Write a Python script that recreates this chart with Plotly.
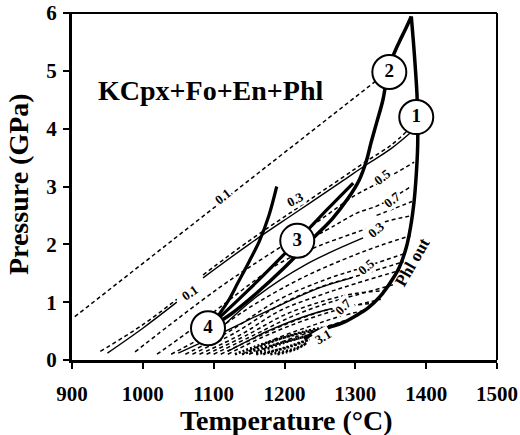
import plotly.graph_objects as go

# ---------------- data ----------------
x_ticks = [900, 1000, 1100, 1200, 1300, 1400, 1500]
y_ticks = [0, 1, 2, 3, 4, 5, 6]

# thick boundaries
phl_out_T = [1228, 1240, 1252, 1267, 1285, 1300, 1318, 1335, 1350, 1362, 1372, 1378, 1383, 1386, 1388, 1388, 1387, 1385, 1382, 1379]
phl_out_P = [0.36, 0.46, 0.52, 0.58, 0.66, 0.76, 0.90, 1.10, 1.35, 1.60, 1.95, 2.30, 2.75, 3.20, 3.70, 4.20, 4.60, 5.00, 5.50, 5.94]

curve2_T = [1379, 1370, 1362, 1353, 1346, 1339, 1330, 1322, 1316, 1305, 1290, 1268, 1240, 1200, 1160, 1125, 1100]
curve2_P = [5.94, 5.70, 5.50, 5.25, 4.98, 4.50, 4.10, 3.75, 3.46, 3.10, 2.80, 2.45, 2.10, 1.60, 1.15, 0.80, 0.60]

curve3_T = [1092, 1150, 1218, 1260, 1297]
curve3_P = [0.55, 1.22, 2.06, 2.60, 3.06]

curve4_T = [1100, 1109, 1122, 1134, 1150, 1165, 1178, 1189]
curve4_P = [0.65, 0.81, 1.05, 1.33, 1.70, 2.07, 2.50, 3.00]

# dashed isopleths
L1_T = [904, 1340]
L1_P = [0.75, 4.93]
L2a_T = [950, 1000, 1048]
L2a_P = [0.12, 0.55, 1.00]
L2b_T = [1085, 1150, 1216, 1280, 1316, 1350, 1377]
L2b_P = [1.42, 2.00, 2.55, 3.08, 3.38, 3.65, 3.92]
L2c_T = [940, 1000, 1048]
L2c_P = [0.15, 0.61, 1.05]
L2d_T = [1085, 1150, 1216, 1280, 1316, 1350, 1374]
L2d_P = [1.47, 2.06, 2.61, 3.14, 3.44, 3.71, 3.97]
D1_T = [989, 1050, 1109, 1151, 1200, 1250, 1300, 1331, 1383]
D1_P = [0.14, 0.72, 1.26, 1.61, 2.00, 2.42, 2.85, 3.05, 3.42]
Dx_T = [1240, 1270, 1302, 1330, 1352, 1376]
Dx_P = [2.12, 2.32, 2.54, 2.66, 2.80, 2.98]
Dy_T = [1330, 1355, 1380]
Dy_P = [2.50, 2.62, 2.74]
E1_T = [1020, 1060, 1092, 1150, 1194, 1250, 1311, 1345, 1381]
E1_P = [0.10, 0.45, 0.75, 1.30, 1.68, 1.98, 2.25, 2.40, 2.50]
E2_T = [1040, 1100, 1160, 1230, 1300, 1340, 1378]
E2_P = [0.10, 0.50, 0.98, 1.45, 1.82, 2.00, 2.15]
E3_T = [1060, 1120, 1193, 1260, 1316, 1372]
E3_P = [0.10, 0.48, 1.05, 1.40, 1.62, 1.85]
F1_T = [1070, 1130, 1193, 1250, 1310, 1368]
F1_P = [0.10, 0.47, 0.95, 1.26, 1.48, 1.70]
E4_T = [1080, 1140, 1193, 1250, 1300, 1363]
E4_P = [0.10, 0.45, 0.85, 1.12, 1.32, 1.55]
F2_T = [1090, 1150, 1200, 1255, 1300, 1341]
F2_P = [0.10, 0.45, 0.78, 1.02, 1.15, 1.20]
E5_T = [1100, 1160, 1210, 1260, 1300, 1353]
E5_P = [0.10, 0.45, 0.75, 0.98, 1.12, 1.30]
F3_T = [1110, 1165, 1215, 1265, 1325]
F3_P = [0.10, 0.42, 0.68, 0.88, 0.98]
E6_T = [1120, 1170, 1220, 1270, 1336]
E6_P = [0.10, 0.40, 0.65, 0.85, 1.05]
E7_T = [1140, 1190, 1240, 1280, 1314]
E7_P = [0.10, 0.38, 0.60, 0.76, 0.86]
E8_T = [1150, 1200, 1250, 1290]
E8_P = [0.10, 0.33, 0.54, 0.70]
# solid companions
S1_T = [1110, 1161, 1230, 1311]
S1_P = [0.55, 1.10, 1.65, 2.11]
S2_T = [1050, 1100, 1150, 1194, 1250, 1295]
S2_P = [0.12, 0.40, 0.70, 0.95, 1.25, 1.42]
S3_T = [1120, 1180, 1240, 1290]
S3_P = [0.15, 0.52, 0.80, 0.95]
# dense hatched band near the bottom
H1_T = [1160, 1200, 1238]
H1_P = [0.12, 0.30, 0.44]
H2_T = [1170, 1210, 1235]
H2_P = [0.10, 0.25, 0.36]
H3_T = [1180, 1215, 1232]
H3_P = [0.10, 0.20, 0.30]
H4_T = [1150, 1190, 1230, 1260]
H4_P = [0.15, 0.35, 0.50, 0.57]
H5_T = [1130, 1180, 1230, 1255]
H5_P = [0.10, 0.32, 0.48, 0.53]
H6_T = [1140, 1190, 1240]
H6_P = [0.10, 0.28, 0.44]
H7_T = [1160, 1205, 1236]
H7_P = [0.10, 0.22, 0.36]
H8_T = [1190, 1215, 1230]
H8_P = [0.10, 0.18, 0.28]

# circled numbers
circle_T = [1386, 1348, 1218, 1092]
circle_P = [4.20, 4.98, 2.06, 0.55]
circle_txt = ["1", "2", "3", "4"]

# isopleth labels
lab_txt = ["0.1", "0.1", "0.3", "0.5", "0.7", "0.3", "0.5", "0.7", "3.1"]
lab_T = [1113, 1067, 1215, 1339, 1352, 1330, 1316, 1283, 1255]
lab_P = [2.82, 1.16, 2.77, 3.17, 2.77, 2.25, 1.61, 0.92, 0.40]
lab_ang = [-38, -35, -28, -38, -38, -40, -40, -45, -30]

FONT = "Liberation Serif"

fig = go.Figure()

def add_line(T, P, dash="solid", width=1.3, shape="spline"):
    fig.add_trace(go.Scatter(x=T, y=P, mode="lines",
                             line=dict(color="black", width=width, dash=dash, shape=shape),
                             hoverinfo="skip", showlegend=False))

DASH = "4px,3px"
for T, P in [(L1_T, L1_P), (L2c_T, L2c_P), (L2d_T, L2d_P), (D1_T, D1_P), (Dx_T, Dx_P),
             (Dy_T, Dy_P), (E1_T, E1_P), (E2_T, E2_P), (E3_T, E3_P), (F1_T, F1_P),
             (E4_T, E4_P), (F2_T, F2_P), (E5_T, E5_P), (F3_T, F3_P), (E6_T, E6_P),
             (E7_T, E7_P), (E8_T, E8_P)]:
    add_line(T, P, dash=DASH, width=1.5)
for T, P in [(L2a_T, L2a_P), (L2b_T, L2b_P), (S1_T, S1_P), (S2_T, S2_P), (S3_T, S3_P)]:
    add_line(T, P, width=1.4)
for T, P in [(H1_T, H1_P), (H2_T, H2_P), (H3_T, H3_P), (H4_T, H4_P),
             (H5_T, H5_P), (H6_T, H6_P), (H7_T, H7_P), (H8_T, H8_P)]:
    add_line(T, P, dash="2px,2px", width=2.5)

add_line(phl_out_T, phl_out_P, width=3.5)
add_line(curve2_T, curve2_P, width=3.5)
add_line(curve3_T, curve3_P, width=3.2)
add_line(curve4_T, curve4_P, width=3.2)

fig.add_trace(go.Scatter(x=circle_T, y=circle_P, mode="markers+text", text=circle_txt,
                         textposition="middle center",
                         textfont=dict(family=FONT, size=19, color="black", weight="bold"),
                         marker=dict(size=34, color="white", line=dict(color="black", width=2)),
                         hoverinfo="skip", showlegend=False))

for t, x, y, a in zip(lab_txt, lab_T, lab_P, lab_ang):
    fig.add_annotation(x=x, y=y, text=t, showarrow=False, textangle=a,
                       font=dict(family=FONT, size=13, color="black", weight="bold"),
                       bgcolor="white", borderpad=0)

fig.add_annotation(x=1380, y=1.69, text="Phl out", showarrow=False, textangle=-60,
                   font=dict(family=FONT, size=17, color="black", weight="bold"))
fig.add_annotation(x=1096, y=4.66, text="KCpx+Fo+En+Phl", showarrow=False,
                   font=dict(family=FONT, size=28, color="black", weight="bold"))

# axis titles
fig.add_annotation(xref="paper", yref="paper", x=0.505, y=-0.175, text="Temperature (°C)",
                   showarrow=False, yanchor="middle",
                   font=dict(family=FONT, size=28, color="black", weight="bold"))
fig.add_annotation(xref="paper", yref="paper", x=-0.127, y=0.507, text="Pressure (GPa)",
                   showarrow=False, textangle=-90, xanchor="center",
                   font=dict(family=FONT, size=28, color="black", weight="bold"))

# top and right frame
fig.add_shape(type="line", xref="paper", yref="paper", x0=-0.012, x1=1.0, y0=1, y1=1,
              line=dict(color="black", width=2))
fig.add_shape(type="line", xref="paper", yref="paper", x0=1, x1=1, y0=0, y1=1,
              line=dict(color="black", width=2))

fig.update_layout(
    width=520, height=435,
    margin=dict(l=72, r=23, t=13, b=75),
    paper_bgcolor="white", plot_bgcolor="white",
    font=dict(family=FONT, color="black"),
    xaxis=dict(range=[900, 1500], tickvals=x_ticks, ticks="outside", ticklen=6, tickwidth=2,
               tickcolor="black", showline=True, linewidth=3, linecolor="black",
               showgrid=False, zeroline=False, ticklabelstandoff=7, automargin=False,
               tickfont=dict(family=FONT, size=21, color="black", weight="bold")),
    yaxis=dict(range=[0, 6], tickvals=y_ticks, ticks="outside", ticklen=6, tickwidth=2,
               tickcolor="black", showline=True, linewidth=3, linecolor="black",
               showgrid=False, zeroline=False, ticklabelstandoff=2, automargin=False,
               tickfont=dict(family=FONT, size=21, color="black", weight="bold")),
)

fig.write_html("out.html")
